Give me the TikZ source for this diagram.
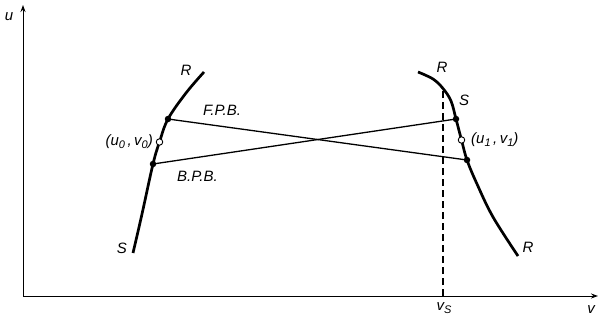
\documentclass[tikz,border=0pt]{standalone}
\usepackage{fontspec}
\setmainfont{Liberation Sans}
\usetikzlibrary{arrows.meta}
\newcommand\mysb[1]{\raisebox{-0.35ex}{\fontsize{11}{12}\selectfont #1}}
\begin{document}
\begin{tikzpicture}[x=1pt,y=-1pt,
  lbl/.style={font=\fontsize{15}{17}\selectfont\itshape, inner sep=0pt},
  axis/.style={line width=1pt, -{Stealth[length=7pt,width=5pt]}},
  curve/.style={line width=2.7pt},
  bound/.style={line width=1.3pt},
  fdot/.style={circle, fill=black, inner sep=0pt, minimum size=6.5pt},
  odot/.style={circle, draw=black, fill=white, line width=0.9pt, inner sep=0pt, minimum size=6.5pt}]
\useasboundingbox (0,0) rectangle (599,321);
% axes
\coordinate (O) at (23,296);
\coordinate (Utop) at (23,5);
\coordinate (Vend) at (598,296);
\draw[axis] (O) -- (Utop);
\draw[axis] (O) -- (Vend);
\node[lbl] (u) at (9,17) {u};
\node[lbl] (v) at (591,310) {v};
% left curve
\coordinate (L1) at (133,253);
\coordinate (LB) at (153,164);
\coordinate (L0) at (159.5,142);
\coordinate (LF) at (168,119);
\coordinate (L4) at (204,72);
\draw[curve] plot[smooth, tension=0.6] coordinates {(L1) (142,214) (LB) (L0) (LF) (186,93) (L4)};
% right curve
\coordinate (R1) at (418,72);
\coordinate (Rd) at (443,88.5);
\coordinate (RF) at (456,119);
\coordinate (R0) at (461.5,140);
\coordinate (RB) at (467,160);
\coordinate (R5) at (518,256);
\draw[curve] plot[smooth, tension=0.6] coordinates {(R1) (433,79) (Rd) (451,101) (RF) (R0) (RB) (477,184) (493,217) (R5)};
% dashed
\coordinate (Vs) at (443,296);
\draw[line width=1.1pt, dash pattern=on 7pt off 4pt] (Vs) -- (Rd);
\node[lbl] (vs) at (444,308) {v\mysb{S}};
% boundary lines
\draw[bound] (LF) -- (RB);
\draw[bound] (LB) -- (RF);
% dots
\node[fdot] (dLF) at (LF) {};
\node[fdot] (dLB) at (LB) {};
\node[fdot] (dRF) at (RF) {};
\node[fdot] (dRB) at (RB) {};
\node[odot] (oL) at (L0) {};
\node[odot] (oR) at (R0) {};
% labels
\node[lbl] (lR) at (186,70) {R};
\node[lbl] (lS) at (122,248) {S};
\node[lbl, anchor=east] (l0) at (153,142) {(u\mysb{0}\,,\,v\mysb{0})};
\node[lbl, anchor=west] (lfpb) at (203,110) {F.P.B.};
\node[lbl, anchor=west] (lbpb) at (177,176) {B.P.B.};
\node[lbl] (rR) at (442,67) {R};
\node[lbl] (rS) at (464,100) {S};
\node[lbl, anchor=west] (l1) at (471,140) {(u\mysb{1}\,,\,v\mysb{1})};
\node[lbl] (rR2) at (528,247) {R};
\end{tikzpicture}
\end{document}
